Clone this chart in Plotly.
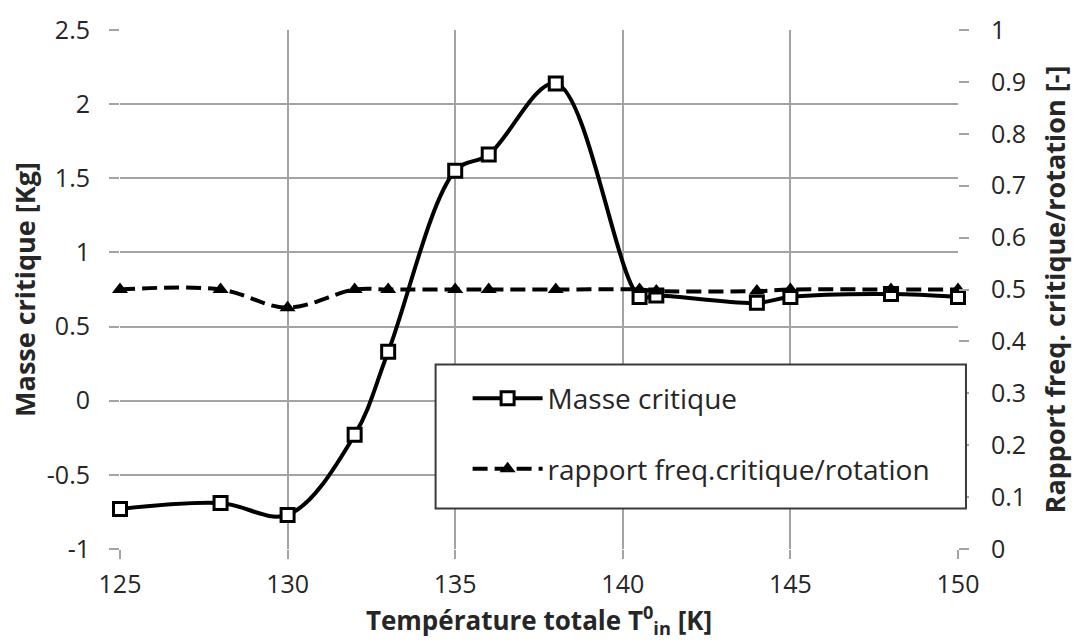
import plotly.graph_objects as go

# ---- data ----
temperature = [125, 128, 130, 132, 133, 135, 136, 138, 140.5, 141, 144, 145, 148, 150]
masse_critique = [-0.73, -0.69, -0.77, -0.23, 0.33, 1.55, 1.66, 2.14, 0.70, 0.71, 0.66, 0.70, 0.72, 0.70]
rapport_freq = [0.50, 0.50, 0.465, 0.50, 0.50, 0.50, 0.50, 0.50, 0.50, 0.497, 0.497, 0.50, 0.50, 0.50]

x_ticks = [125, 130, 135, 140, 145, 150]
y_left_ticks = [-1, -0.5, 0, 0.5, 1, 1.5, 2, 2.5]
y_left_labels = ["-1", "-0.5", "0", "0.5", "1", "1.5", "2", "2.5"]
y_right_ticks = [0, 0.1, 0.2, 0.3, 0.4, 0.5, 0.6, 0.7, 0.8, 0.9, 1]
y_right_labels = ["0", "0.1", "0.2", "0.3", "0.4", "0.5", "0.6", "0.7", "0.8", "0.9", "1"]

FONT = "Open Sans"
TXT = "#262626"
GRID = "#a3a3a3"
TICK_SIZE = 25
TITLE_SIZE = 27

fig = go.Figure()

fig.add_trace(go.Scatter(
    x=temperature, y=masse_critique, name="Masse critique",
    mode="lines+markers", cliponaxis=False,
    line=dict(color="black", width=4, shape="spline", smoothing=1.0),
    marker=dict(symbol="square", size=13, color="white",
                line=dict(color="black", width=3)),
    legendgroup="a", yaxis="y",
))

fig.add_trace(go.Scatter(
    x=temperature, y=rapport_freq, name="rapport freq.critique/rotation",
    mode="lines+markers", cliponaxis=False,
    line=dict(color="black", width=4, shape="spline", smoothing=1.0, dash="15px,7px"),
    marker=dict(symbol="triangle-up", size=14, color="black"),
    legendgroup="b", yaxis="y2",
))

fig.add_shape(type="rect", xref="paper", yref="paper",
              x0=0.3766, x1=1.0095, y0=0.078, y1=0.3554,
              line=dict(color="#3a3a3a", width=2), fillcolor="white", layer="above")

fig.update_layout(
    width=1077, height=643,
    margin=dict(l=120, r=118, t=26, b=94),
    paper_bgcolor="white", plot_bgcolor="white",
    font=dict(family=FONT, color=TXT, size=22),
    showlegend=True,
    legend=dict(x=0.4148, y=0.338, xanchor="left", yanchor="top",
                bgcolor="rgba(0,0,0,0)", borderwidth=0,
                font=dict(family=FONT, size=28, color=TXT),
                tracegroupgap=31, itemwidth=70),
    xaxis=dict(range=[125, 150], tickvals=x_ticks, showgrid=True,
               gridcolor=GRID, gridwidth=1.5, zeroline=False,
               showline=False, ticks="outside", ticklen=9, tickcolor=GRID, tickwidth=1.5,
               tickfont=dict(size=TICK_SIZE, family=FONT, color=TXT), ticklabelstandoff=4,
               title=dict(text="<b>Température totale T<sup>0</sup><sub>in</sub> [K]</b>",
                          font=dict(size=26, family=FONT, color=TXT), standoff=4)),
    yaxis=dict(range=[-1, 2.5], tickvals=y_left_ticks, ticktext=y_left_labels,
               showgrid=True, gridcolor=GRID, gridwidth=1.5, zeroline=False,
               showline=False, ticks="outside", ticklen=10, tickcolor=GRID, tickwidth=1.5,
               tickfont=dict(size=TICK_SIZE, family=FONT, color=TXT), ticklabelstandoff=14,
               title=dict(text="<b>Masse critique [Kg]</b>",
                          font=dict(size=TITLE_SIZE, family=FONT, color=TXT), standoff=3)),
    yaxis2=dict(range=[0, 1], tickvals=y_right_ticks, ticktext=y_right_labels,
                overlaying="y", side="right", showgrid=False, zeroline=False,
                showline=False, ticks="outside", ticklen=10, tickcolor=GRID, tickwidth=1.5,
                tickfont=dict(size=TICK_SIZE, family=FONT, color=TXT), ticklabelstandoff=17,
                title=dict(text="<b>Rapport freq. critique/rotation [-]</b>",
                           font=dict(size=TITLE_SIZE, family=FONT, color=TXT), standoff=20)),
)

fig.write_html("out.html")
